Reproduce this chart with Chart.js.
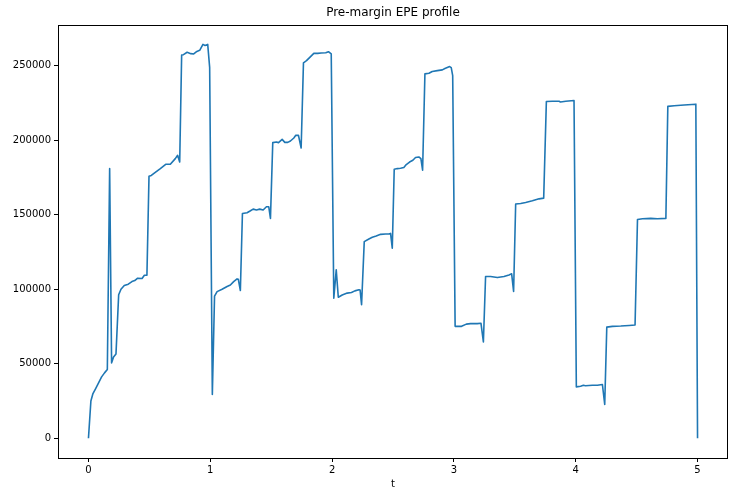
<!DOCTYPE html>
<html lang="en">
<head>
  <meta charset="UTF-8">
  <title>Pre-margin EPE profile</title>
  <script src="https://cdn.jsdelivr.net/npm/chart.js"></script>
  <style>
    body { margin: 0; background: #fff; }
  </style>
</head>
<body>
<canvas id="epeChart" width="745" height="498"></canvas>

<script>
  // values
  var times = [
    0, 0.02, 0.037, 0.058, 0.083, 0.108, 0.132, 0.155, 0.174, 0.19, 0.206, 0.226,
    0.248, 0.267, 0.294, 0.327, 0.357, 0.38, 0.404, 0.44, 0.459, 0.48,
    0.497, 0.516, 0.543, 0.59, 0.634, 0.672, 0.713, 0.732, 0.749,
    0.765, 0.78, 0.81, 0.84, 0.864, 0.89, 0.913, 0.94, 0.957, 0.979, 0.995,
    1.017, 1.035, 1.056, 1.097, 1.138, 1.165, 1.192, 1.22, 1.23, 1.247,
    1.264, 1.302, 1.33, 1.352, 1.379, 1.406, 1.434, 1.461, 1.48, 1.494,
    1.513, 1.543, 1.56, 1.59, 1.612, 1.636, 1.658, 1.686, 1.702, 1.724, 1.746,
    1.765, 1.79, 1.817, 1.85, 1.882, 1.91, 1.948, 1.97, 1.993,
    2.014, 2.034, 2.051, 2.083, 2.124, 2.159, 2.187, 2.22, 2.23, 2.242,
    2.264, 2.302, 2.33, 2.362, 2.398, 2.439, 2.466, 2.48, 2.494,
    2.51, 2.535, 2.562, 2.589, 2.609, 2.636, 2.663, 2.685, 2.712, 2.729, 2.743,
    2.762, 2.795, 2.822, 2.864, 2.905, 2.926, 2.965, 2.978, 2.99,
    3.01, 3.063, 3.102, 3.137, 3.192, 3.222, 3.242,
    3.26, 3.301, 3.357, 3.411, 3.452, 3.474, 3.49,
    3.507, 3.548, 3.589, 3.644, 3.699, 3.737,
    3.759, 3.808, 3.863, 3.875, 3.918, 3.986,
    4.005, 4.04, 4.063, 4.08, 4.137, 4.178, 4.219, 4.238,
    4.255, 4.301, 4.37, 4.438, 4.487,
    4.507, 4.548, 4.616, 4.671, 4.74,
    4.756, 4.808, 4.89, 4.986, 5.0
  ];
  var epe = [
    0, 25000, 30000, 33200, 37200, 41200, 43900, 46100, 180900, 50600, 54600, 56600,
    96300, 100000, 102500, 103400, 105100, 105800, 107400, 107200, 109400, 109400,
    175800, 176300, 178000, 180900, 183800, 183800, 187600, 189800, 185300,
    257100, 257300, 258900, 258000, 257800, 259500, 260200, 264200, 263500, 264200, 248800,
    29400, 95300, 98400, 100000, 101800, 102800, 105100, 106900, 106700, 99100,
    150800, 151300, 152600, 153700, 153100, 153700, 153100, 155300, 155300, 147500,
    198300, 198700, 198300, 200500, 198500, 198500, 199400, 201400, 203200, 203200, 194700,
    251800, 253300, 255500, 258200, 258200, 258400, 258600, 259300, 257800,
    94000, 113000, 94600, 96100, 97400, 97800, 98900, 99600, 99400, 89600,
    131900, 133700, 134800, 135700, 136800, 137000, 137000, 137400, 127500,
    180500, 180900, 181100, 181600, 183600, 185300, 186500, 188300, 188700, 187600, 179800,
    244400, 244800, 246000, 246600, 247100, 248000, 249300, 248600, 243300,
    75100, 75100, 76600, 76900, 76900, 77200, 64600,
    108500, 108500, 107800, 108500, 109600, 110300, 98500,
    157100, 157500, 158200, 159300, 160600, 161100,
    225900, 226100, 226100, 225600, 226100, 226600,
    34500, 34900, 35600, 35300, 35600, 35600, 36100, 22700,
    74600, 75100, 75300, 75700, 76000,
    146800, 147300, 147500, 147300, 147500,
    222600, 223000, 223500, 224100, 0
  ];
  var xTicks = [0, 1, 2, 3, 4, 5];
  var yTicks = [0, 50000, 100000, 150000, 200000, 250000];

  var points = times.map(function(t, i) {
    return { x: t, y: epe[i] };
  });

  var FONT = 'DejaVu Sans';

  // matplotlib-like frame and title over the plot area
  var framePlugin = {
    id: 'frame',
    afterDraw: function(chart) {
      var ctx = chart.ctx;
      var a = chart.chartArea;
      ctx.save();
      ctx.strokeStyle = '#000';
      ctx.lineWidth = 1;
      ctx.strokeRect(Math.round(a.left) + 0.5, Math.round(a.top) + 0.5,
        Math.round(a.right - a.left) - 1, Math.round(a.bottom - a.top));
      ctx.fillStyle = '#000';
      ctx.font = '12px "' + FONT + '"';
      ctx.textAlign = 'center';
      ctx.textBaseline = 'middle';
      ctx.fillText('Pre-margin EPE profile', (a.left + a.right) / 2, 13);
      ctx.restore();
    }
  };

  new Chart(document.getElementById('epeChart').getContext('2d'), {
    type: 'line',
    data: {
      datasets: [{
        data: points,
        borderColor: '#1f77b4',
        borderWidth: 1.6,
        borderJoinStyle: 'round',
        pointRadius: 0,
        tension: 0,
        fill: false
      }]
    },
    options: {
      responsive: false,
      animation: false,
      devicePixelRatio: 1,
      layout: { padding: { left: 0, right: 17, top: 25, bottom: 0 } },
      plugins: {
        legend: { display: false },
        tooltip: { enabled: false }
      },
      scales: {
        x: {
          type: 'linear',
          min: -0.25,
          max: 5.25,
          afterBuildTicks: function(scale) {
            scale.ticks = xTicks.map(function(v) { return { value: v }; });
          },
          afterFit: function(scale) { scale.height = 40; },
          border: { display: false },
          grid: { display: true, drawOnChartArea: false, drawTicks: true, tickLength: 4, color: '#000' },
          ticks: {
            color: '#000',
            padding: 2,
            maxRotation: 0,
            font: { family: FONT, size: 10 },
            callback: function(v) { return String(v); }
          },
          title: {
            display: true,
            text: 't',
            color: '#000',
            font: { family: FONT, size: 10 },
            padding: { top: 0, bottom: 8 }
          }
        },
        y: {
          type: 'linear',
          min: -13200,
          max: 277200,
          afterBuildTicks: function(scale) {
            scale.ticks = yTicks.map(function(v) { return { value: v }; });
          },
          afterFit: function(scale) { scale.width = 58; },
          border: { display: false },
          grid: { display: true, drawOnChartArea: false, drawTicks: true, tickLength: 4, color: '#000' },
          ticks: {
            color: '#000',
            padding: 3,
            font: { family: FONT, size: 10 },
            callback: function(v) { return String(v); }
          }
        }
      }
    },
    plugins: [framePlugin]
  });
</script>
</body>
</html>
